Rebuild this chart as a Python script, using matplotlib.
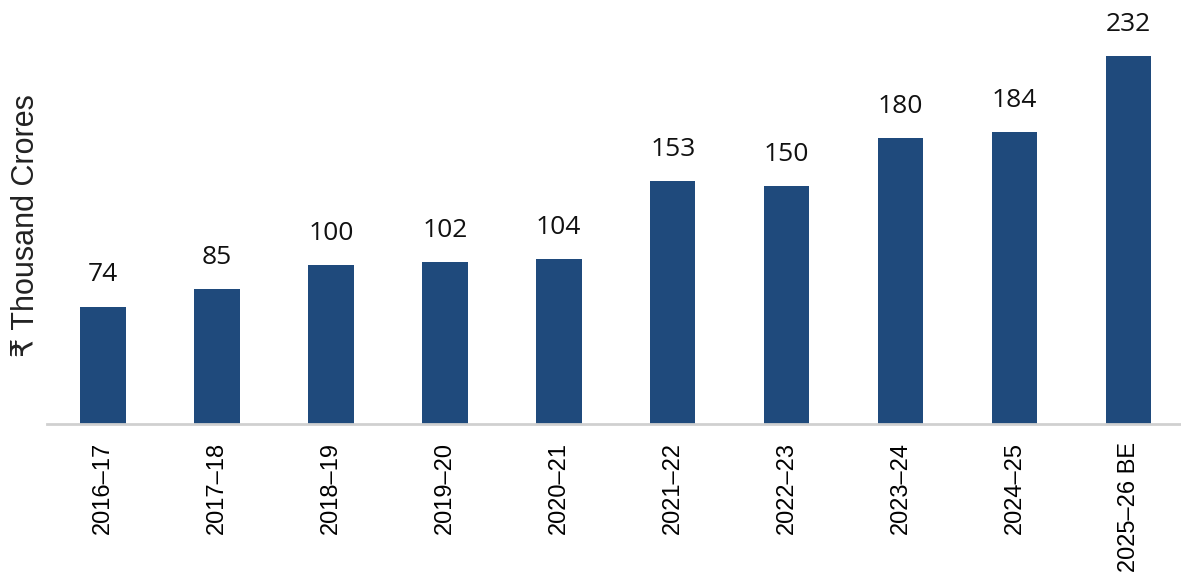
import numpy as np
import matplotlib.pyplot as plt

years = ["2016–17", "2017–18", "2018–19", "2019–20", "2020–21",
         "2021–22", "2022–23", "2023–24", "2024–25", "2025–26 BE"]
values = [74, 85, 100, 102, 104, 153, 150, 180, 184, 232]

bar_color = "#1f4a7c"

fig = plt.figure(figsize=(11.81, 5.87), dpi=100)
ax = fig.add_axes([0.0398, 0.2777, 0.9602, 0.7223])

x = np.arange(len(years))
bars = ax.bar(x, values, width=0.40, color=bar_color)

for xi, v in zip(x, values):
    ax.annotate(str(v), (xi, v), xytext=(0, 14), textcoords="offset points",
                ha="center", va="bottom", fontsize=19,
                family=["Open Sans", "DejaVu Sans"], color="#111111")

ax.set_xlim(-0.49, 9.46)
ax.set_ylim(0, 267.3)
ax.set_xticks(x)
ax.set_xticklabels(years, rotation=90, fontsize=17,
                   family=["Liberation Sans", "DejaVu Sans"])
ax.tick_params(axis="x", length=0, pad=13)
ax.set_yticks([])

for s in ["top", "right", "left"]:
    ax.spines[s].set_visible(False)
ax.spines["bottom"].set_color("#d0d0d0")
ax.spines["bottom"].set_linewidth(2)

ax.set_ylabel("₹ Thousand Crores", fontsize=22, color="#222222",
              family=["Liberation Sans", "DejaVu Sans"])
ax.yaxis.set_label_coords(-0.005, 0.467)

fig.savefig("out.png", dpi=100)
